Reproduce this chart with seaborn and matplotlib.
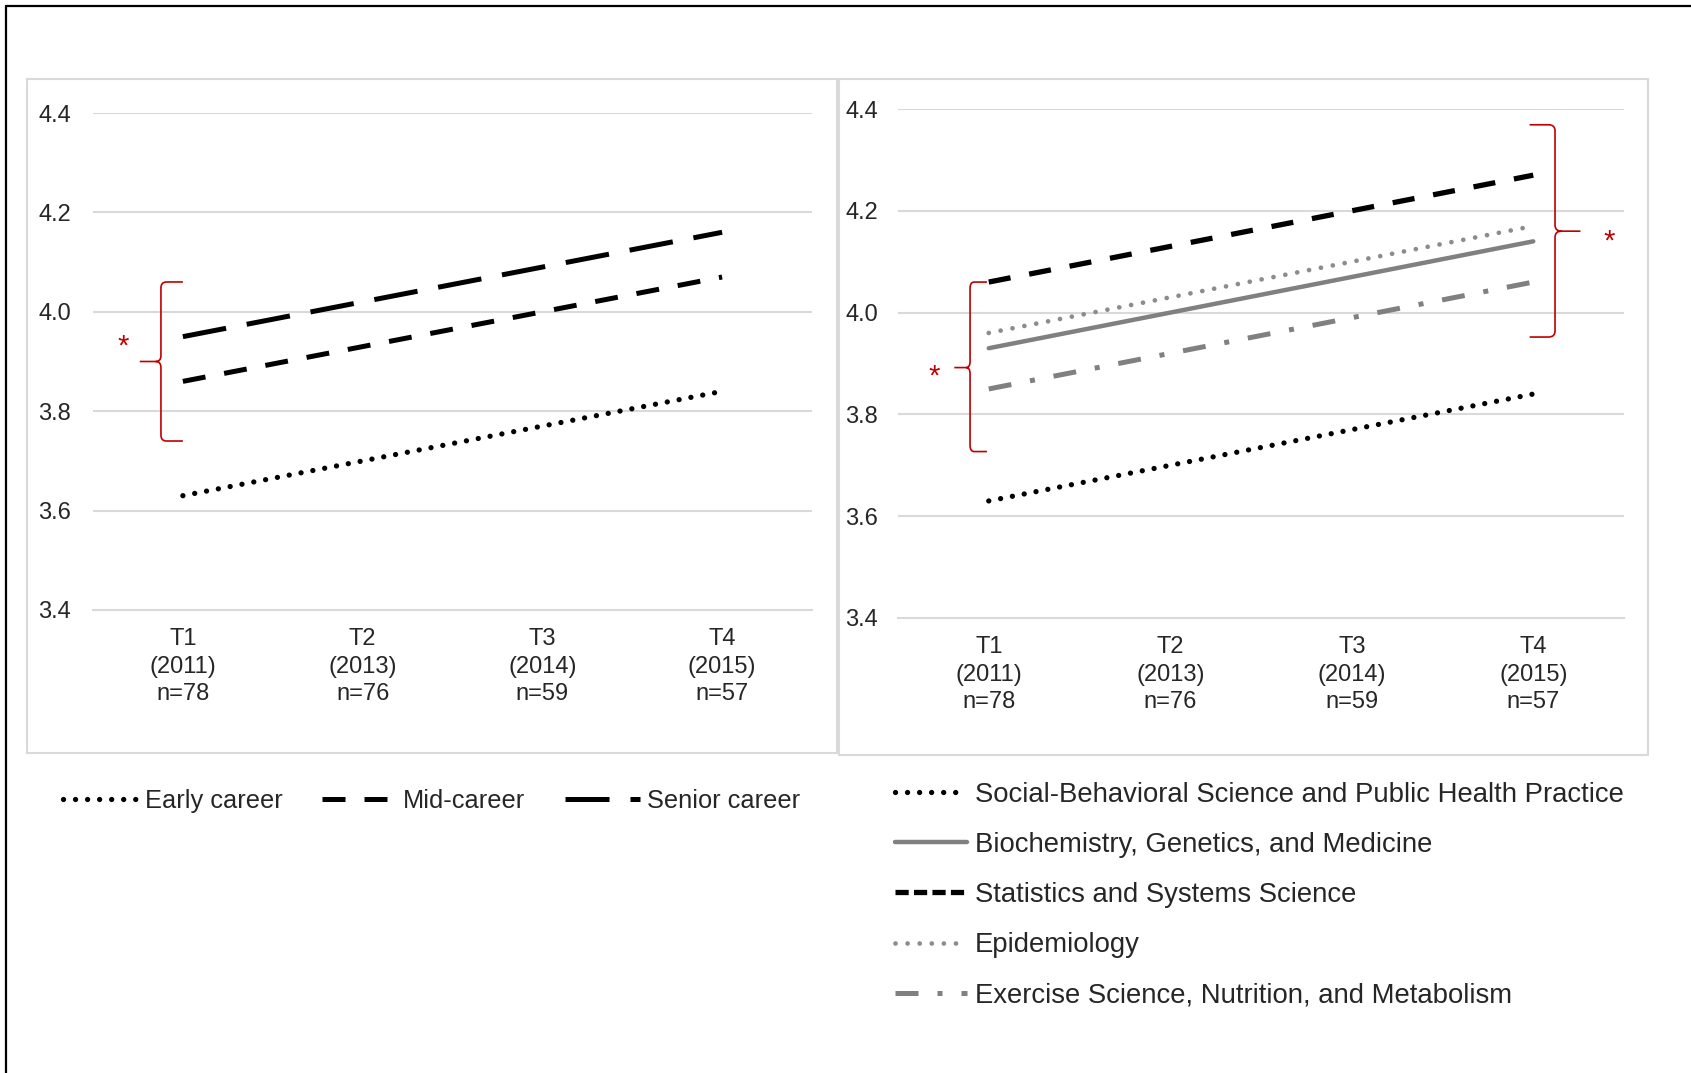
import pandas as pd
import matplotlib.pyplot as plt
import seaborn as sns
from matplotlib.lines import Line2D
from matplotlib.patches import Rectangle, PathPatch
from matplotlib.path import Path

# Data
time_labels = ['T1\n(2011)\nn=78', 'T2\n(2013)\nn=76', 'T3\n(2014)\nn=59', 'T4\n(2015)\nn=57']
time_pos = [0, 1, 2, 3]

career_groups = ['Early career', 'Mid-career', 'Senior career']
early_career = [3.63, 3.70, 3.77, 3.84]
mid_career = [3.86, 3.93, 4.00, 4.07]
senior_career = [3.95, 4.02, 4.09, 4.16]

fields = ['Social-Behavioral Science and Public Health Practice',
          'Biochemistry, Genetics, and Medicine',
          'Statistics and Systems Science',
          'Epidemiology',
          'Exercise Science, Nutrition, and Metabolism']
social_behavioral = [3.63, 3.70, 3.77, 3.84]
biochemistry = [3.93, 4.00, 4.07, 4.14]
statistics = [4.06, 4.13, 4.20, 4.27]
epidemiology = [3.96, 4.03, 4.10, 4.17]
exercise = [3.85, 3.92, 3.99, 4.06]

y_ticks = [3.4, 3.6, 3.8, 4.0, 4.2, 4.4]

sns.set_style('white')
plt.rcParams['font.family'] = ['Liberation Sans', 'DejaVu Sans']

W, H = 1691, 1073
fig = plt.figure(figsize=(W / 100, H / 100), dpi=100)

GRID = '#d9d9d9'
RED = '#c00000'
TICK_FS = 17


def px_axes(x0, y0, x1, y1):
    # pixel box (top-left origin) -> figure axes
    return fig.add_axes([x0 / W, 1 - y1 / H, (x1 - x0) / W, (y1 - y0) / H])


def style_axes(ax, label_pad):
    ax.set_xlim(-0.5, 3.5)
    ax.set_ylim(3.4, 4.4)
    ax.set_yticks(y_ticks)
    ax.set_yticklabels([f'{v:.1f}' for v in y_ticks])
    ax.set_xticks([-0.5, 0.5, 1.5, 2.5, 3.5])
    ax.set_xticklabels([])
    ax.set_xticks(time_pos, minor=True)
    ax.set_xticklabels(time_labels, minor=True, fontsize=TICK_FS, linespacing=1.33)
    ax.tick_params(axis='x', which='major', length=7, width=1.3, color=GRID, direction='out')
    ax.tick_params(axis='x', which='minor', length=0, pad=13)
    ax.tick_params(axis='y', length=0, pad=label_pad, labelsize=TICK_FS)
    for s in ['left', 'right', 'top']:
        ax.spines[s].set_visible(False)
    ax.spines['bottom'].set_color(GRID)
    ax.spines['bottom'].set_linewidth(1.5)
    for v in y_ticks[1:]:
        ax.axhline(v, color=GRID, lw=1.5, zorder=0)
    ax.set_xlabel('')
    ax.set_ylabel('')
    ax.patch.set_alpha(0)


def bracket(ax, x_vert, x_hook, x_tip, y_top, y_bot, y_mid, r=0.012):
    xa = x_vert + 0.25 * (x_hook - x_vert)
    xb = x_vert + 0.25 * (x_tip - x_vert)
    verts = [(x_hook, y_top), (xa, y_top), (x_vert, y_top), (x_vert, y_top - r),
             (x_vert, y_mid + r), (x_vert, y_mid), (xb, y_mid), (x_tip, y_mid),
             (xb, y_mid), (x_vert, y_mid), (x_vert, y_mid - r),
             (x_vert, y_bot + r), (x_vert, y_bot), (xa, y_bot), (x_hook, y_bot)]
    codes = [Path.MOVETO, Path.LINETO, Path.CURVE3, Path.CURVE3,
             Path.LINETO, Path.CURVE3, Path.CURVE3, Path.LINETO,
             Path.MOVETO, Path.CURVE3, Path.CURVE3,
             Path.LINETO, Path.CURVE3, Path.CURVE3, Path.LINETO]
    ax.add_patch(PathPatch(Path(verts, codes), fill=False, ec=RED, lw=1.2, clip_on=False))


# panel frames and outer border
fig.add_artist(Rectangle((27 / W, 1 - 753 / H), 810 / W, 674 / H, transform=fig.transFigure,
                         fill=False, ec=GRID, lw=1.5))
fig.add_artist(Rectangle((839 / W, 1 - 755 / H), 809 / W, 676 / H, transform=fig.transFigure,
                         fill=False, ec=GRID, lw=1.5))
fig.add_artist(Line2D([6 / W, 1], [1 - 6 / H, 1 - 6 / H], transform=fig.transFigure, color='black', lw=1.6))
fig.add_artist(Line2D([6 / W, 6 / W], [0, 1 - 6 / H], transform=fig.transFigure, color='black', lw=1.6))

# ---- left panel: career stage
ax1 = px_axes(93, 113, 812, 610)
career_df = pd.DataFrame({
    'time': time_pos * 3,
    'score': early_career + mid_career + senior_career,
    'group': [g for g in career_groups for _ in time_pos],
})
career_styles = {
    'Early career': dict(color='black', lw=3.8, linestyle=(0, (0.01, 2.27)), dash_capstyle='round'),
    'Mid-career': dict(color='black', lw=3.6, linestyle=(0, (4.6, 3.8))),
    'Senior career': dict(color='black', lw=3.6, linestyle=(0, (8.8, 4.2))),
}
for g in career_groups:
    sns.lineplot(data=career_df[career_df['group'] == g], x='time', y='score', ax=ax1,
                 legend=False, clip_on=False, **career_styles[g])
style_axes(ax1, 16)
bracket(ax1, -0.122, 0.0, -0.24, 4.06, 3.74, 3.90)
ax1.text(-0.33, 3.93, '*', color=RED, fontsize=21, ha='center', va='center')

# ---- right panel: field
ax2 = px_axes(898, 109, 1624, 618)
field_df = pd.DataFrame({
    'time': time_pos * 5,
    'score': social_behavioral + biochemistry + statistics + epidemiology + exercise,
    'group': [f for f in fields for _ in time_pos],
})
field_styles = {
    fields[0]: dict(color='black', lw=3.8, linestyle=(0, (0.01, 2.27)), dash_capstyle='round'),
    fields[1]: dict(color='#808080', lw=3.2, linestyle='-'),
    fields[2]: dict(color='black', lw=3.8, linestyle=(0, (4.2, 3.6))),
    fields[3]: dict(color='#8c8c8c', lw=3.4, linestyle=(0, (0.01, 2.55)), dash_capstyle='round'),
    fields[4]: dict(color='#808080', lw=3.6, linestyle=(0, (4.6, 3.8, 1.0, 3.8))),
}
for f in fields:
    sns.lineplot(data=field_df[field_df['group'] == f], x='time', y='score', ax=ax2,
                 legend=False, clip_on=False, **field_styles[f])
style_axes(ax2, 14.5)
bracket(ax2, -0.103, -0.01, -0.19, 4.06, 3.727, 3.892)
ax2.text(-0.30, 3.875, '*', color=RED, fontsize=21, ha='center', va='center')
bracket(ax2, 3.12, 2.98, 3.26, 4.369, 3.952, 4.16)
ax2.text(3.42, 4.14, '*', color=RED, fontsize=21, ha='center', va='center')

# ---- legends
fig.legend(ax1.lines[:3], career_groups, loc='center left', bbox_to_anchor=(63 / W, 1 - 801 / H),
           ncol=3, frameon=False, fontsize=18.3, handlelength=2.95, handletextpad=0.26,
           columnspacing=1.55, borderpad=0, borderaxespad=0)

# legend keys: the statistics key uses the tighter dash pattern of the original legend
field_handles = list(ax2.lines[:5])
field_handles[2] = Line2D([], [], color='black', lw=3.8, linestyle=(0, (2.5, 1.0)))
fig.legend(field_handles, fields, loc='center left', bbox_to_anchor=(895 / W, 1 - 895 / H),
           ncol=1, frameon=False, fontsize=19.8, handlelength=2.63, handletextpad=0.28,
           labelspacing=0.88, borderpad=0, borderaxespad=0)

fig.savefig('out.png', dpi=100)
